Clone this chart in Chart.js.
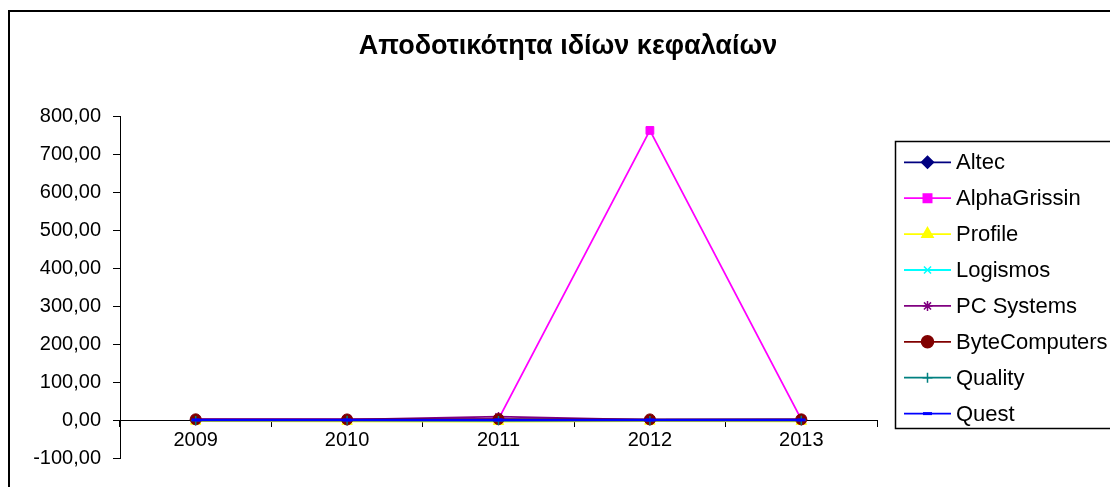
<!DOCTYPE html>
<html>
<head>
<meta charset="utf-8">
<script src="https://cdn.jsdelivr.net/npm/chart.js@4/dist/chart.umd.min.js"></script>
<style>
  html, body { margin: 0; padding: 0; background: #fff; }
  #wrap { width: 1110px; height: 487px; position: relative; }
</style>
</head>
<body>
<div id="wrap"><canvas id="c" width="1110" height="487"></canvas></div>
<script>
// Return on equity by company, 2009-2013
const years = ['2009', '2010', '2011', '2012', '2013'];
const altec = [0.6, 0.4, 0.8, 0.5, 0.6];
const alphaGrissin = [1.5, 1.8, 2.5, 762.0, 1.6];
const profile = [-3.0, -3.5, -4.0, -3.2, -3.6];
const logismos = [0.3, -0.5, -0.8, 0.2, -0.4];
const pcSystems = [0.8, 1.0, 9.0, 0.4, 0.6];
const byteComputers = [1.8, 1.5, 2.4, 1.6, 1.7];
const quality = [-1.0, -0.8, -1.4, -1.2, -0.9];
const quest = [0.2, 0.1, 0.3, 0.1, 0.2];
const yTicks = [-100, 0, 100, 200, 300, 400, 500, 600, 700, 800];
const titleText = 'Αποδοτικότητα ιδίων κεφαλαίων';

const FONT = '"Liberation Sans", Arial, sans-serif';

const series = [
  { label: 'Altec', data: altec, color: '#000080', style: 'rectRot', radius: 5.5 },
  { label: 'AlphaGrissin', data: alphaGrissin, color: '#FF00FF', style: 'rect', radius: 5.5 },
  { label: 'Profile', data: profile, color: '#FFFF00', style: 'triangle', radius: 6 },
  { label: 'Logismos', data: logismos, color: '#00FFFF', style: 'crossRot', radius: 4.5 },
  { label: 'PC Systems', data: pcSystems, color: '#800080', style: 'star', radius: 4.5 },
  { label: 'ByteComputers', data: byteComputers, color: '#800000', style: 'circle', radius: 5.5 },
  { label: 'Quality', data: quality, color: '#008080', style: 'cross', radius: 4.5 },
  { label: 'Quest', data: quest, color: '#0000FF', style: 'line', radius: 4 }
];

const datasets = series.map((s, i) => ({
  label: s.label,
  data: s.data,
  borderColor: s.color,
  backgroundColor: s.color,
  borderWidth: (s.label === 'Quest') ? 2.5 : 1.8,
  pointStyle: s.style,
  pointRadius: s.radius,
  pointBorderWidth: (s.style === 'line') ? 3 : (s.style === 'cross' || s.style === 'crossRot' || s.style === 'star') ? 1.5 : 1,
  pointBackgroundColor: s.color,
  pointBorderColor: s.color,
  tension: 0,
  // later series are painted over earlier ones
  order: series.length - 1 - i
}));

// Outer frame, title and the framed legend with line + marker samples
const decor = {
  id: 'decor',
  beforeDraw(chart) {
    const ctx = chart.ctx;
    ctx.save();
    ctx.fillStyle = '#fff';
    ctx.fillRect(0, 0, chart.width, chart.height);
    ctx.strokeStyle = '#000';
    ctx.lineWidth = 2;
    ctx.strokeRect(9, 11, 2000, 1000);
    ctx.restore();
  },
  afterDraw(chart) {
    const ctx = chart.ctx;
    ctx.save();
    // title
    ctx.fillStyle = '#000';
    ctx.font = 'bold 27px ' + FONT;
    ctx.textAlign = 'center';
    ctx.textBaseline = 'middle';
    ctx.fillText(titleText, 568, 47);

    // legend frame
    ctx.strokeStyle = '#000';
    ctx.lineWidth = 1.5;
    ctx.strokeRect(895.5, 141.5, 1000, 287);

    ctx.font = '22px ' + FONT;
    ctx.textAlign = 'left';
    ctx.textBaseline = 'middle';
    series.forEach((s, i) => {
      const y = 162.3 + i * 35.9;
      ctx.strokeStyle = s.color;
      ctx.lineWidth = 1.8;
      ctx.beginPath();
      ctx.moveTo(904, y);
      ctx.lineTo(951, y);
      ctx.stroke();
      ctx.fillStyle = s.color;
      ctx.lineWidth = (s.style === 'line') ? 3 : 1.5;
      Chart.helpers.drawPoint(ctx, {
        pointStyle: s.style, radius: s.radius + 0.5, rotation: 0,
        borderWidth: ctx.lineWidth
      }, 927.5, y);
      ctx.fillStyle = '#000';
      ctx.fillText(s.label, 956, y + 1);
    });
    ctx.restore();
  }
};

new Chart(document.getElementById('c'), {
  type: 'line',
  data: { labels: years, datasets },
  plugins: [decor],
  options: {
    responsive: false,
    animation: false,
    devicePixelRatio: 1,
    layout: { padding: { left: 0, right: 233, top: 116, bottom: 29 } },
    plugins: {
      legend: { display: false },
      title: { display: false },
      tooltip: { enabled: false }
    },
    scales: {
      x: {
        position: { y: 0 },
        offset: true,
        grid: {
          offset: true,
          drawOnChartArea: false,
          drawTicks: true,
          tickLength: 6,
          tickColor: '#000',
          tickWidth: 1
        },
        border: { display: true, color: '#000', width: 1 },
        ticks: {
          color: '#000',
          font: { family: FONT, size: 20 },
          padding: 2,
          maxRotation: 0
        },
        afterFit(scale) { scale.height = 0; }
      },
      y: {
        min: -100,
        max: 800,
        afterBuildTicks(scale) { scale.ticks = yTicks.map(v => ({ value: v })); },
        grid: {
          drawOnChartArea: false,
          drawTicks: true,
          tickLength: 7,
          tickColor: '#000',
          tickWidth: 1
        },
        border: { display: true, color: '#000', width: 1 },
        ticks: {
          color: '#000',
          font: { family: FONT, size: 20 },
          padding: 12,
          callback: (v) => Number(v).toFixed(2).replace('.', ',')
        },
        afterFit(scale) { scale.width = 120; }
      }
    }
  }
});
</script>
</body>
</html>
